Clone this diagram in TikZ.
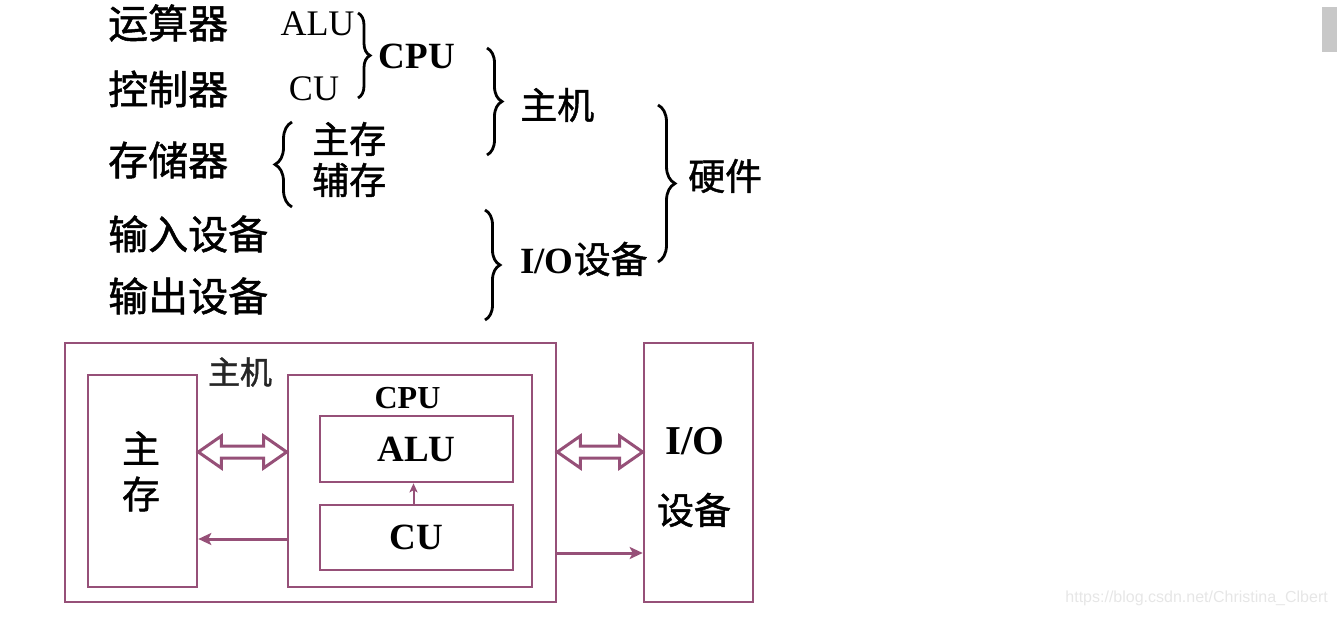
\documentclass[tikz,border=0pt]{standalone}
\usepackage{fontspec}
\setmainfont{Liberation Serif}
\newfontfamily\cjk[FakeBold=1.2]{Noto Sans CJK SC}
\newfontfamily\wmfont{Liberation Sans}
\usetikzlibrary{arrows.meta,calc,decorations.pathreplacing}
\definecolor{mauve}{RGB}{150,80,120}
\definecolor{wmgray}{RGB}{230,230,230}
\definecolor{bargray}{RGB}{200,200,200}
\tikzset{
  side/.style={anchor=west,inner sep=0pt,font=\fontsize{40}{48}\selectfont\cjk},
  mid/.style={anchor=west,inner sep=0pt,font=\fontsize{37}{44}\selectfont\cjk},
  latin/.style={inner sep=0pt,font=\fontsize{36}{43}\selectfont},
  brc/.style={decorate,decoration={brace,amplitude=#1},line width=2.8pt},
  box/.style={draw=mauve,line width=2.6pt,inner sep=0pt},
  hollow/.style={draw=mauve,fill=white,line width=3pt,line join=miter},
  arr/.style={draw=mauve,line width=3pt,-{Stealth[length=13pt,width=12pt,inset=3pt]}},
  thinarr/.style={draw=mauve,line width=2pt,-{Stealth[length=9pt,width=8pt,inset=2pt]}}
}
\newcommand{\hollowarrow}[2]{%
  \path (#1) coordinate (ha) (#2) coordinate (hb);
  \draw[hollow] (ha) -- ++(23,-16) -- ++(0,10) -- ($(hb)+(-23,-6)$)
    -- ++(0,-10) -- (hb) -- ++(-23,16) -- ++(0,-10)
    -- ($(ha)+(23,6)$) -- ++(0,10) -- cycle;}

\begin{document}
\begin{tikzpicture}[x=1pt,y=-1pt]
\useasboundingbox (0,0) rectangle (1338,617);
\node[side] (ysq) at (108,23) {运算器};
\node[side] (kzq) at (108,89) {控制器};
\node[side] (ccq) at (108,160) {存储器};
\node[side] (srsb) at (108,234) {输入设备};
\node[side] (scsb) at (108,296) {输出设备};
\node[latin] (talu) at (317.5,24) {ALU};
\node[latin] (tcu) at (314,89) {CU};
\node[latin,font=\fontsize{37}{44}\selectfont\bfseries] (tcpu) at (417,56) {CPU};
\node[mid] (tzc) at (312,139) {主存};
\node[mid] (tfc) at (312,180) {辅存};
\node[mid] (tzj) at (520,105) {主机};
\node[mid] (tyj) at (688,176) {硬件};
\node[mid] (tio) at (520,259) {{\fontspec{Liberation Serif}\bfseries I/O}设备};
\draw[brc=12pt] (358,13) -- (358,98);
\draw[brc=17pt] (292,207) -- (292,122);
\draw[brc=15pt] (487,48) -- (487,155);
\draw[brc=15pt] (485,210) -- (485,320);
\draw[brc=17pt] (658,105) -- (658,262);
\node[box,minimum width=491,minimum height=259] (host) at (310.5,472.5) {};
\node[box,minimum width=109,minimum height=212] (mem) at (142.5,481) {};
\node[box,minimum width=244,minimum height=212] (cpu) at (410,481) {};
\node[box,minimum width=193,minimum height=66,font=\fontsize{37}{44}\selectfont\bfseries] (alu) at (416.5,449) {ALU};
\node[box,minimum width=193,minimum height=65,font=\fontsize{37}{44}\selectfont\bfseries] (cu) at (416.5,537.5) {CU};
\node[box,minimum width=109,minimum height=259] (io) at (698.5,472.5) {};
\node[inner sep=0pt,text=black!85,font=\fontsize{32}{38}\selectfont\cjk] (lhost) at (240,372) {主机};
\node[inner sep=0pt,font=\fontsize{32}{38}\selectfont\bfseries] (lcpu) at (407.5,398) {CPU};
\node[inner sep=0pt,font=\fontsize{38}{45}\selectfont\cjk] (lzhu) at (141,448) {主};
\node[inner sep=0pt,font=\fontsize{38}{45}\selectfont\cjk] (lcun) at (141,494) {存};
\node[inner sep=0pt,font=\fontsize{41}{49}\selectfont\bfseries] (lio) at (695,441) {I/O};
\node[inner sep=0pt,font=\fontsize{37}{44}\selectfont\cjk] (lsb) at (694,510) {设备};
\coordinate (lvl1) at (0,452);
\coordinate (lvl2) at (0,539);
\coordinate (lvl3) at (0,553);
\hollowarrow{mem.east |- lvl1}{cpu.west |- lvl1}
\hollowarrow{host.east |- lvl1}{io.west |- lvl1}
\draw[arr] (cpu.west |- lvl2) -- (mem.east |- lvl2);
\draw[arr] (host.east |- lvl3) -- (io.west |- lvl3);
\draw[thinarr] ([xshift=-3pt]cu.north) -- ([xshift=-3pt]alu.south);
\node[anchor=east,inner sep=0pt,text=wmgray,font=\fontsize{16}{19}\selectfont\wmfont] (wm) at (1328,598) {https://blog.csdn.net/Christina\_Clbert};
\fill[bargray] (1322,7) rectangle (1337,52);
\end{tikzpicture}
\end{document}
